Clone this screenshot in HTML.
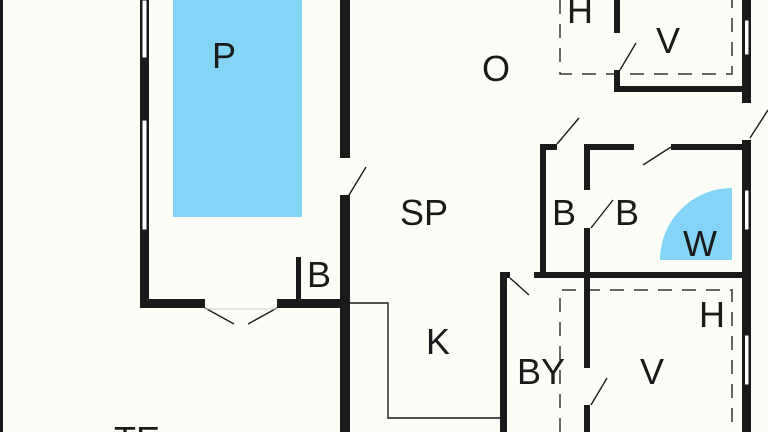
<!DOCTYPE html>
<html><head><style>
html,body{margin:0;padding:0;background:#fdfdf8;width:768px;height:432px;overflow:hidden;}
svg{display:block;}
text{font-family:"Liberation Sans",Arial,sans-serif;font-size:36px;fill:#1a1a1a;text-anchor:middle;}
</style></head><body>
<svg width="768" height="432" viewBox="0 0 768 432" xmlns="http://www.w3.org/2000/svg" overflow="hidden">
<defs><clipPath id="c"><rect x="0" y="0" width="768" height="432"/></clipPath></defs>
<rect width="768" height="432" fill="#fdfdf8"/>
<rect x="173" y="0" width="129" height="217" fill="#83d4f6"/>
<path d="M732,260 L660,260 A72,72 0 0 1 732,188 Z" fill="#83d4f6"/>
<g fill="none" stroke="#333" stroke-width="1.5" stroke-dasharray="14,10">
<path d="M560,0 V74 H732 V0"/>
<path d="M560,432 V290 H732 V432"/>
</g>
<g fill="#1a1a1a">
<rect x="0" y="0" width="3" height="432"/>
<rect x="140" y="0" width="9" height="308"/>
<rect x="140" y="299" width="65" height="9"/>
<rect x="277" y="299" width="73" height="9"/>
<rect x="296" y="257" width="5" height="45"/>
<rect x="340" y="0" width="10" height="158"/>
<rect x="340" y="195" width="10" height="237"/>
<rect x="614" y="0" width="6" height="33"/>
<rect x="614" y="70" width="6" height="22"/>
<rect x="614" y="86" width="131" height="6"/>
<rect x="742" y="0" width="9" height="103"/>
<rect x="742" y="140" width="9" height="292"/>
<rect x="540" y="144" width="6" height="134"/>
<rect x="540" y="144" width="17" height="6"/>
<rect x="584" y="144" width="50" height="6"/>
<rect x="671" y="144" width="74" height="6"/>
<rect x="584" y="144" width="6" height="46"/>
<rect x="584" y="228" width="6" height="140"/>
<rect x="584" y="405" width="6" height="27"/>
<rect x="534" y="272" width="211" height="6"/>
<rect x="500" y="272" width="7" height="160"/>
<rect x="500" y="272" width="10" height="6"/>
</g>
<g fill="#fff" stroke="#1a1a1a" stroke-width="1">
<rect x="142" y="0" width="5" height="58"/>
<rect x="142" y="120" width="5" height="110"/>
<rect x="744.5" y="20" width="4.5" height="35"/>
<rect x="744.5" y="190" width="4.5" height="40"/>
<rect x="744.5" y="335" width="4.5" height="50"/>
</g>
<g stroke="#1a1a1a" stroke-width="1.4" fill="none">
<line x1="205" y1="308" x2="234" y2="324"/>
<line x1="277" y1="308" x2="248" y2="324"/>
<line x1="349" y1="195" x2="366" y2="167"/>
<line x1="620" y1="70" x2="636" y2="43"/>
<line x1="750" y1="138" x2="768" y2="110"/>
<line x1="557" y1="144" x2="579" y2="118"/>
<line x1="671" y1="147" x2="643" y2="165"/>
<line x1="591" y1="228" x2="613" y2="200"/>
<line x1="591" y1="405" x2="607" y2="378"/>
<line x1="510" y1="278" x2="529" y2="295"/>
<polyline points="350,303 388,303 388,418 501,418"/>
</g>
<g stroke="#ccc" stroke-width="1">
<line x1="205" y1="309" x2="277" y2="309"/>
</g>
<text x="224" y="68">P</text>
<text x="319" y="287">B</text>
<text x="424" y="225">SP</text>
<text x="438" y="354">K</text>
<text x="496" y="81">O</text>
<text x="580" y="23">H</text>
<text x="668" y="53">V</text>
<text x="564" y="225">B</text>
<text x="627" y="225">B</text>
<text x="700" y="256">W</text>
<text x="712" y="327">H</text>
<text x="652" y="384">V</text>
<text x="541" y="384">BY</text>
<g clip-path="url(#c)"><text x="137" y="452">TE</text></g>
</svg>
</body></html>
